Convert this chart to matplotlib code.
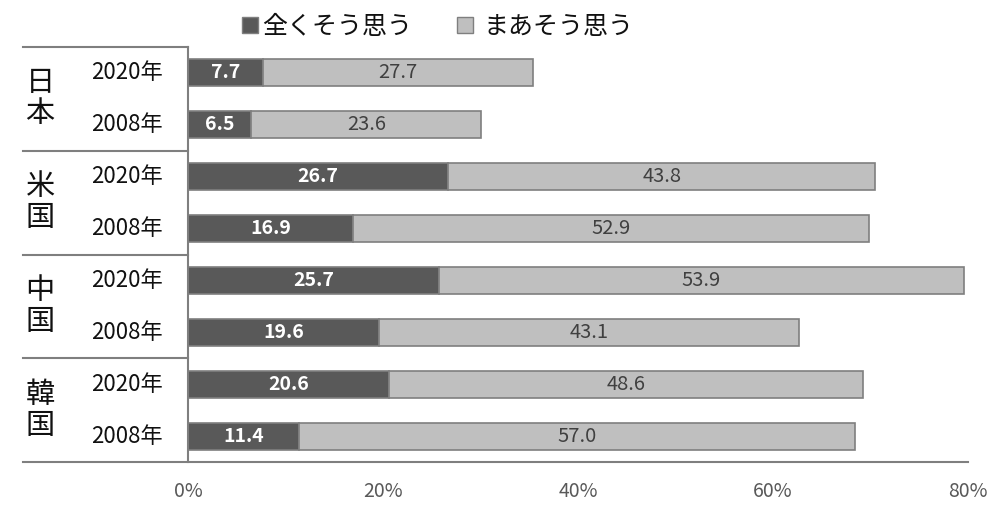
import matplotlib.pyplot as plt
from matplotlib.patches import Rectangle

plt.rcParams['font.family'] = ['Noto Sans CJK JP', 'DejaVu Sans']

countries = ['日本', '米国', '中国', '韓国']
years = ['2020年', '2008年']
strongly = [7.7, 6.5, 26.7, 16.9, 25.7, 19.6, 20.6, 11.4]
somewhat = [27.7, 23.6, 43.8, 52.9, 53.9, 43.1, 48.6, 57.0]
series_names = ['全くそう思う', 'まあそう思う']
xticks = [0, 20, 40, 60, 80]

dark = '#595959'
light = '#bfbfbf'
edge = '#7f7f7f'

fig = plt.figure(figsize=(10, 5.16), dpi=100)
ax_w = 780
ax = fig.add_axes([0.188, 1 - 462 / 516, ax_w / 1000, (462 - 47) / 516])

ypos = [i + 0.5 for i in range(len(strongly))]
ax.barh(ypos, strongly, height=0.52, color=dark, edgecolor=edge, linewidth=1.2)
ax.barh(ypos, somewhat, left=strongly, height=0.52, color=light, edgecolor=edge, linewidth=1.2)

for y, a, b in zip(ypos, strongly, somewhat):
    ax.text(a / 2, y, f'{a:.1f}', ha='center', va='center', color='white',
            fontsize=14, fontweight='bold')
    ax.text(a + b / 2, y, f'{b:.1f}', ha='center', va='center', color='#404040',
            fontsize=14.5)

ax.set_xlim(0, 80)
ax.set_ylim(len(strongly), 0)
ax.set_xticks(xticks)
ax.set_xticklabels([f'{t}%' for t in xticks], color='#595959', fontsize=14)
ax.set_yticks([])
ax.tick_params(axis='x', length=0, pad=14)
for s in ['top', 'right', 'bottom']:
    ax.spines[s].set_visible(False)
ax.spines['left'].set_color(edge)
ax.spines['left'].set_linewidth(1.5)

# table on the left
x_left = (23 - 188) / ax_w
tr = ax.get_yaxis_transform()
ax.plot([x_left, 1.0], [len(strongly)] * 2, color=edge, lw=1.5, transform=tr, clip_on=False)
for k in range(len(countries)):
    ax.plot([x_left, 0], [2 * k, 2 * k], color=edge, lw=1.5, transform=tr, clip_on=False)
    ax.text((40 - 188) / ax_w, 2 * k + 1, '\n'.join(countries[k]), ha='center', va='center',
            fontsize=21, linespacing=1.05, transform=tr, color='#111111')
    for j, yr in enumerate(years):
        ax.text((127 - 188) / ax_w, 2 * k + j + 0.5, yr, ha='center', va='center',
                fontsize=16, transform=tr, color='#111111')

# legend
for xs, xt, name, c in [(242, 262, series_names[0], dark), (457, 483, series_names[1], light)]:
    fig.patches.append(Rectangle((xs / 1000, 1 - 33 / 516), 16 / 1000, 16 / 516,
                                 transform=fig.transFigure, facecolor=c, edgecolor=edge, lw=1))
    fig.text(xt / 1000, 1 - 27 / 516, name, ha='left', va='center', fontsize=18, color='#111111')

fig.savefig('out.png', dpi=100)
